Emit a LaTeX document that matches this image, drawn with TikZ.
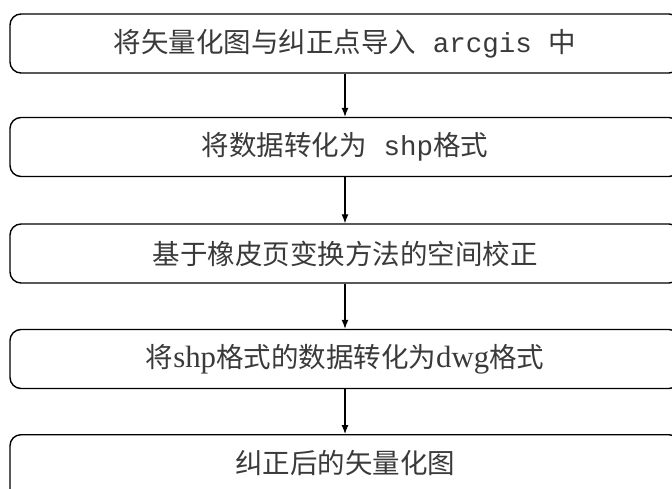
\documentclass[tikz,border=0pt]{standalone}
\usepackage{fontspec}
\usetikzlibrary{arrows.meta}
\newfontfamily\cjk{Noto Sans CJK SC}
\newfontfamily\latmono{Liberation Mono}
\newfontfamily\latserif[Scale=1.12]{Liberation Serif}
\definecolor{txt}{HTML}{3A3A3A}
\begin{document}
\begin{tikzpicture}[x=1pt,y=1pt,
  stepbox/.style={draw=black, line width=1.4pt, rounded corners=11pt,
    minimum width=670pt, minimum height=59pt, inner sep=0pt,
    font=\cjk\fontsize{27.5}{27.5}\selectfont, text=txt},
  flow/.style={-{Latex[length=9pt,width=7pt]}, line width=1.2pt}]
\useasboundingbox (0,0) rectangle (672,-488);
\clip (0,0) rectangle (672,-488);
\fill[white] (0,0) rectangle (672,-488);
\node[stepbox] (b1) at (345,-43.5) {将矢量化图与纠正点导入{\latmono\ arcgis\ }中};
\node[stepbox] (b2) at (345,-147) {将数据转化为{\latmono\ shp}格式};
\node[stepbox] (b3) at (345,-253.5) {基于橡皮页变换方法的空间校正};
\node[stepbox] (b4) at (345,-359) {将{\latserif shp}格式的数据转化为{\latserif dwg}格式};
\node[stepbox, minimum height=80pt, anchor=north, text depth=25pt] (b5) at (345,-434) {纠正后的矢量化图};
\draw[flow] (b1.south) -- (b2.north);
\draw[flow] (b2.south) -- (b3.north);
\draw[flow] (b3.south) -- (b4.north);
\draw[flow] (b4.south) -- (b5.north);
\end{tikzpicture}
\end{document}
